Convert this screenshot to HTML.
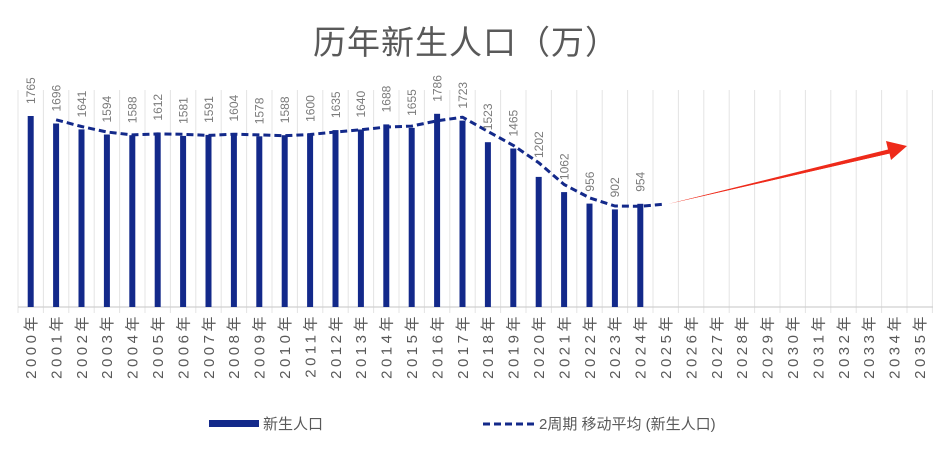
<!DOCTYPE html>
<html><head><meta charset="utf-8"><style>
html,body{margin:0;padding:0;background:#fff;}
svg{display:block;font-family:"Liberation Sans","Noto Sans CJK SC",sans-serif;}
</style></head><body>
<svg width="948" height="457" viewBox="0 0 948 457" xmlns="http://www.w3.org/2000/svg">
<text x="466" y="54" text-anchor="middle" font-size="33" fill="#595959" letter-spacing="1">历年新生人口（万）</text>
<g stroke="#e4e4e4" stroke-width="1">
<line x1="18" y1="90" x2="18" y2="313"/><line x1="43.4" y1="90" x2="43.4" y2="313"/><line x1="68.8" y1="90" x2="68.8" y2="313"/><line x1="94.2" y1="90" x2="94.2" y2="313"/><line x1="119.6" y1="90" x2="119.6" y2="313"/><line x1="145" y1="90" x2="145" y2="313"/><line x1="170.4" y1="90" x2="170.4" y2="313"/><line x1="195.8" y1="90" x2="195.8" y2="313"/><line x1="221.2" y1="90" x2="221.2" y2="313"/><line x1="246.6" y1="90" x2="246.6" y2="313"/><line x1="272" y1="90" x2="272" y2="313"/><line x1="297.4" y1="90" x2="297.4" y2="313"/><line x1="322.8" y1="90" x2="322.8" y2="313"/><line x1="348.2" y1="90" x2="348.2" y2="313"/><line x1="373.6" y1="90" x2="373.6" y2="313"/><line x1="399" y1="90" x2="399" y2="313"/><line x1="424.4" y1="90" x2="424.4" y2="313"/><line x1="449.8" y1="90" x2="449.8" y2="313"/><line x1="475.2" y1="90" x2="475.2" y2="313"/><line x1="500.6" y1="90" x2="500.6" y2="313"/><line x1="526" y1="90" x2="526" y2="313"/><line x1="551.4" y1="90" x2="551.4" y2="313"/><line x1="576.8" y1="90" x2="576.8" y2="313"/><line x1="602.2" y1="90" x2="602.2" y2="313"/><line x1="627.6" y1="90" x2="627.6" y2="313"/><line x1="653" y1="90" x2="653" y2="313"/><line x1="678.4" y1="90" x2="678.4" y2="313"/><line x1="703.8" y1="90" x2="703.8" y2="313"/><line x1="729.2" y1="90" x2="729.2" y2="313"/><line x1="754.6" y1="90" x2="754.6" y2="313"/><line x1="780" y1="90" x2="780" y2="313"/><line x1="805.4" y1="90" x2="805.4" y2="313"/><line x1="830.8" y1="90" x2="830.8" y2="313"/><line x1="856.2" y1="90" x2="856.2" y2="313"/><line x1="881.6" y1="90" x2="881.6" y2="313"/><line x1="907" y1="90" x2="907" y2="313"/><line x1="932.4" y1="90" x2="932.4" y2="313"/>
</g>
<line x1="18" y1="307" x2="933" y2="307" stroke="#d0d0d0" stroke-width="1.2"/>
<g fill="#13298a">
<rect x="27.7" y="116" width="6" height="191"/><rect x="53.1" y="123.5" width="6" height="183.5"/><rect x="78.5" y="129.4" width="6" height="177.6"/><rect x="103.9" y="134.5" width="6" height="172.5"/><rect x="129.3" y="135.2" width="6" height="171.8"/><rect x="154.7" y="132.6" width="6" height="174.4"/><rect x="180.1" y="135.9" width="6" height="171.1"/><rect x="205.5" y="134.9" width="6" height="172.1"/><rect x="230.9" y="133.5" width="6" height="173.5"/><rect x="256.3" y="136.3" width="6" height="170.7"/><rect x="281.7" y="135.2" width="6" height="171.8"/><rect x="307.1" y="133.9" width="6" height="173.1"/><rect x="332.5" y="130.1" width="6" height="176.9"/><rect x="357.9" y="129.5" width="6" height="177.5"/><rect x="383.3" y="124.4" width="6" height="182.6"/><rect x="408.7" y="127.9" width="6" height="179.1"/><rect x="434.1" y="113.8" width="6" height="193.2"/><rect x="459.5" y="120.6" width="6" height="186.4"/><rect x="484.9" y="142.2" width="6" height="164.8"/><rect x="510.3" y="148.5" width="6" height="158.5"/><rect x="535.7" y="176.9" width="6" height="130.1"/><rect x="561.1" y="192.1" width="6" height="114.9"/><rect x="586.5" y="203.6" width="6" height="103.4"/><rect x="611.9" y="209.4" width="6" height="97.6"/><rect x="637.3" y="203.8" width="6" height="103.2"/>
</g>
<polyline fill="none" stroke="#13298a" stroke-width="3" stroke-dasharray="7 4" stroke-linejoin="round" points="56.1,119.8 81.5,126.5 106.9,132 132.3,134.9 157.7,133.9 183.1,134.3 208.5,135.4 233.9,134.2 259.3,134.9 284.7,135.7 310.1,134.5 335.5,132 360.9,129.8 386.3,127 411.7,126.1 437.1,120.8 462.5,117.2 487.9,131.4 513.3,145.4 538.7,162.7 564.1,184.5 589.5,197.8 614.9,206 640.3,206.3 665.7,204"/>
<polygon points="668,204 888,149.5 886,141 907,146 891,160 889.5,153.5" fill="#ee2a1a"/>
<polygon points="668,204 889,151 889.5,153.5" fill="#ee2a1a"/>
<g font-size="12" fill="#7a7a7a">
<text transform="translate(35,104) rotate(-90)">1765</text>
<text transform="translate(60.4,111.5) rotate(-90)">1696</text>
<text transform="translate(85.8,117.4) rotate(-90)">1641</text>
<text transform="translate(111.2,122.5) rotate(-90)">1594</text>
<text transform="translate(136.6,123.2) rotate(-90)">1588</text>
<text transform="translate(162,120.6) rotate(-90)">1612</text>
<text transform="translate(187.4,123.9) rotate(-90)">1581</text>
<text transform="translate(212.8,122.9) rotate(-90)">1591</text>
<text transform="translate(238.2,121.5) rotate(-90)">1604</text>
<text transform="translate(263.6,124.3) rotate(-90)">1578</text>
<text transform="translate(289,123.2) rotate(-90)">1588</text>
<text transform="translate(314.4,121.9) rotate(-90)">1600</text>
<text transform="translate(339.8,118.1) rotate(-90)">1635</text>
<text transform="translate(365.2,117.5) rotate(-90)">1640</text>
<text transform="translate(390.6,112.4) rotate(-90)">1688</text>
<text transform="translate(416,115.9) rotate(-90)">1655</text>
<text transform="translate(441.4,101.8) rotate(-90)">1786</text>
<text transform="translate(466.8,108.6) rotate(-90)">1723</text>
<text transform="translate(492.2,130.2) rotate(-90)">1523</text>
<text transform="translate(517.6,136.5) rotate(-90)">1465</text>
<text transform="translate(543,158) rotate(-90)">1202</text>
<text transform="translate(568.4,180.1) rotate(-90)">1062</text>
<text transform="translate(593.8,191.6) rotate(-90)">956</text>
<text transform="translate(619.2,197.4) rotate(-90)">902</text>
<text transform="translate(644.6,191.8) rotate(-90)">954</text>
</g>
<g font-size="15" fill="#595959" text-anchor="end" letter-spacing="3.5">
<text transform="translate(36,313) rotate(-90)">2000年</text>
<text transform="translate(61.4,313) rotate(-90)">2001年</text>
<text transform="translate(86.8,313) rotate(-90)">2002年</text>
<text transform="translate(112.2,313) rotate(-90)">2003年</text>
<text transform="translate(137.6,313) rotate(-90)">2004年</text>
<text transform="translate(163,313) rotate(-90)">2005年</text>
<text transform="translate(188.4,313) rotate(-90)">2006年</text>
<text transform="translate(213.8,313) rotate(-90)">2007年</text>
<text transform="translate(239.2,313) rotate(-90)">2008年</text>
<text transform="translate(264.6,313) rotate(-90)">2009年</text>
<text transform="translate(290,313) rotate(-90)">2010年</text>
<text transform="translate(315.4,313) rotate(-90)">2011年</text>
<text transform="translate(340.8,313) rotate(-90)">2012年</text>
<text transform="translate(366.2,313) rotate(-90)">2013年</text>
<text transform="translate(391.6,313) rotate(-90)">2014年</text>
<text transform="translate(417,313) rotate(-90)">2015年</text>
<text transform="translate(442.4,313) rotate(-90)">2016年</text>
<text transform="translate(467.8,313) rotate(-90)">2017年</text>
<text transform="translate(493.2,313) rotate(-90)">2018年</text>
<text transform="translate(518.6,313) rotate(-90)">2019年</text>
<text transform="translate(544,313) rotate(-90)">2020年</text>
<text transform="translate(569.4,313) rotate(-90)">2021年</text>
<text transform="translate(594.8,313) rotate(-90)">2022年</text>
<text transform="translate(620.2,313) rotate(-90)">2023年</text>
<text transform="translate(645.6,313) rotate(-90)">2024年</text>
<text transform="translate(671,313) rotate(-90)">2025年</text>
<text transform="translate(696.4,313) rotate(-90)">2026年</text>
<text transform="translate(721.8,313) rotate(-90)">2027年</text>
<text transform="translate(747.2,313) rotate(-90)">2028年</text>
<text transform="translate(772.6,313) rotate(-90)">2029年</text>
<text transform="translate(798,313) rotate(-90)">2030年</text>
<text transform="translate(823.4,313) rotate(-90)">2031年</text>
<text transform="translate(848.8,313) rotate(-90)">2032年</text>
<text transform="translate(874.2,313) rotate(-90)">2033年</text>
<text transform="translate(899.6,313) rotate(-90)">2034年</text>
<text transform="translate(925,313) rotate(-90)">2035年</text>
</g>
<rect x="209" y="420" width="50" height="7" fill="#13298a"/>
<text x="263" y="429" font-size="15" fill="#595959">新生人口</text>
<line x1="483" y1="424" x2="536" y2="424" stroke="#13298a" stroke-width="3" stroke-dasharray="7 4"/>
<text x="539" y="429" font-size="15" fill="#595959">2周期 移动平均 (新生人口)</text>
</svg>
</body></html>
